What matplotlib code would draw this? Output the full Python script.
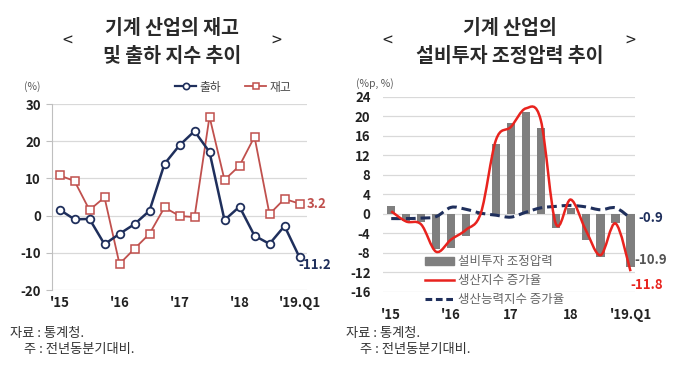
#!/usr/bin/env python3
import numpy as np
import matplotlib

matplotlib.use('Agg')
import matplotlib.pyplot as plt
from matplotlib.path import Path
from matplotlib.patches import PathPatch, Patch
from matplotlib.lines import Line2D

plt.rcParams['font.family'] = ['Noto Sans CJK KR', 'DejaVu Sans']
plt.rcParams['axes.unicode_minus'] = False

# ---------------------------------------------------------------- data
quarters = ['15.Q1', '15.Q2', '15.Q3', '15.Q4', '16.Q1', '16.Q2', '16.Q3', '16.Q4',
            '17.Q1', '17.Q2', '17.Q3', '17.Q4', '18.Q1', '18.Q2', '18.Q3', '18.Q4', '19.Q1']
tick_labels = ["'15", "'16", "'17", "'18", "'19.Q1"]

# left chart: 출하 / 재고 index growth (%)
shipment = [1.6, -1.0, -0.9, -7.7, -4.9, -2.3, 1.3, 13.9, 18.9, 22.7, 17.1, -1.2, 2.4, -5.4, -7.6, -2.8, -11.2]
inventory = [10.8, 9.3, 1.5, 4.9, -13.0, -8.9, -4.9, 2.2, -0.1, -0.4, 26.6, 9.6, 13.4, 21.2, 0.4, 4.5, 3.2]

# right chart
adj_pressure = [1.6, -1.5, -1.6, -7.3, -7.0, -4.6, -0.2, 14.3, 18.7, 20.9, 17.6, -3.0, 1.1, -5.4, -8.8, -2.0, -10.9]
production = [0.5, -1.6, -2.2, -7.8, -5.3, -3.3, 0.2, 15.1, 17.8, 21.6, 19.2, -2.0, 2.9, -3.3, -8.5, -2.0, -11.8]
capacity = [-1.0, -1.0, -0.9, -0.6, 1.3, 0.9, 0.1, -0.3, -0.7, 0.3, 1.2, 1.5, 1.7, 1.4, 0.8, 1.2, -0.9]

W, H = 680, 379
NAVY = '#1f2f5c'
LRED = '#c0504d'
RED = '#e8231e'
GRAY = '#7f7f7f'
GRID = '#d9d9d9'


def fx(px):
    return px / W


def fy(py):
    return 1 - py / H


def smooth_path(x, y):
    # Excel-style smoothed line (Catmull-Rom as cubic Bezier segments)
    pts = np.column_stack([x, y]).astype(float)
    ext = np.vstack([pts[0], pts, pts[-1]])
    verts = [pts[0]]
    codes = [Path.MOVETO]
    for i in range(len(pts) - 1):
        p0, p1, p2, p3 = ext[i], ext[i + 1], ext[i + 2], ext[i + 3]
        verts += [p1 + (p2 - p0) / 6, p2 - (p3 - p1) / 6, p2]
        codes += [Path.CURVE4] * 3
    return Path(verts, codes)


fig = plt.figure(figsize=(W / 100, H / 100), dpi=100)
xs = np.arange(len(quarters))

# ---------------------------------------------------------------- left chart
ax1 = fig.add_axes([fx(52), fy(290), fx(307) - fx(52), fy(104) - fy(290)])
ax1.plot(xs, shipment, color=NAVY, lw=1.8, marker='o', ms=5.5, mfc='white', mew=1.3, zorder=3)
ax1.plot(xs, inventory, color=LRED, lw=1.3, marker='s', ms=5.5, mfc='white', mew=1.1, zorder=2)
ax1.set_xlim(-0.5, 16.5)
ax1.set_ylim(-20, 30)
ax1.set_yticks(range(-20, 31, 10))
ax1.set_xticks(xs[::4])
ax1.set_xticklabels(tick_labels)
ax1.grid(axis='y', color=GRID, lw=0.9)
ax1.set_axisbelow(True)
for s in ['top', 'right', 'bottom']:
    ax1.spines[s].set_visible(False)
ax1.spines['left'].set_color('#bfbfbf')
ax1.tick_params(axis='y', length=4, color='#bfbfbf', pad=4, labelsize=9.5, labelcolor='#222222')
ax1.tick_params(axis='x', length=0, pad=4, labelsize=9.5, labelcolor='#222222')
for lab in ax1.get_xticklabels() + ax1.get_yticklabels():
    lab.set_fontweight('bold')

ax1.text(16.5, 3.2, '3.2', color=LRED, fontsize=9.5, fontweight='bold', va='center', ha='left')
ax1.text(15.9, -13.3, '-11.2', color=NAVY, fontsize=9.5, fontweight='bold', va='center', ha='left')

fig.legend(handles=[Line2D([], [], color=NAVY, lw=1.6, marker='o', ms=4.5, mfc='white', mew=1.2),
                    Line2D([], [], color=LRED, lw=1.3, marker='s', ms=4.5, mfc='white', mew=1.1)],
           labels=['출하', '재고'], ncol=2, loc='center left', bbox_to_anchor=(fx(175), fy(87)),
           frameon=False, fontsize=8.5, handlelength=1.8, handletextpad=0.3, columnspacing=2.0,
           borderpad=0, borderaxespad=0, labelcolor='#444444')
fig.text(fx(24), fy(87), '(%)', fontsize=7.5, color='#595959', va='center')

# ---------------------------------------------------------------- right chart
ax2 = fig.add_axes([fx(383), fy(291.7), fx(635) - fx(383), fy(96.7) - fy(291.7)])
ax2.bar(xs, adj_pressure, width=0.55, color=GRAY, zorder=2)
ax2.add_patch(PathPatch(smooth_path(xs, production), fill=False, ec=RED, lw=1.8, zorder=4))
ax2.add_patch(PathPatch(smooth_path(xs, capacity), fill=False, ec=NAVY, lw=2.2,
                        ls=(0, (3.2, 1.6)), zorder=3))
ax2.set_xlim(-0.55, 16.3)
ax2.set_ylim(-16, 24)
ax2.set_yticks(range(-16, 25, 4))
ax2.set_xticks(xs[::4])
ax2.set_xticklabels(["'15", "'16", "17", "18", "'19.Q1"])
ax2.grid(axis='y', color=GRID, lw=0.9)
ax2.set_axisbelow(True)
for s in ax2.spines.values():
    s.set_visible(False)
ax2.tick_params(axis='y', length=0, pad=9, labelsize=9.5, labelcolor='#222222')
ax2.tick_params(axis='x', length=0, pad=12, labelsize=9.5, labelcolor='#222222')
for lab in ax2.get_xticklabels() + ax2.get_yticklabels():
    lab.set_fontweight('bold')

ax2.text(16.55, -0.9, '-0.9', color=NAVY, fontsize=9.5, fontweight='bold', va='center', ha='left')
ax2.text(16.25, -9.4, '-10.9', color='#555555', fontsize=9.5, fontweight='bold', va='center', ha='left')
ax2.text(16.0, -14.6, '-11.8', color=RED, fontsize=9.5, fontweight='bold', va='center', ha='left')

fig.legend(handles=[Patch(color=GRAY),
                    Line2D([], [], color=RED, lw=1.8),
                    Line2D([], [], color=NAVY, lw=2.2, ls=(0, (2.2, 1.2)))],
           labels=['설비투자 조정압력', '생산지수 증가율', '생산능력지수 증가율'],
           loc='upper left', bbox_to_anchor=(fx(425), fy(255)), frameon=False, fontsize=9,
           handlelength=2.3, handleheight=0.6, handletextpad=0.3, labelspacing=0.5,
           borderpad=0, borderaxespad=0, labelcolor='#666666')
fig.text(fx(356), fy(84), '(%p, %)', fontsize=7.5, color='#595959', va='center')

# ---------------------------------------------------------------- titles & notes
for cx, lines, lx, rx in [(172, ['기계 산업의 재고', '및 출하 지수 추이'], 67, 276),
                          (510, ['기계 산업의', '설비투자 조정압력 추이'], 387, 630)]:
    fig.text(fx(cx), fy(29), lines[0], fontsize=14, fontweight='bold', color='#2a2a2a', ha='center', va='center')
    fig.text(fx(cx), fy(57), lines[1], fontsize=14, fontweight='bold', color='#2a2a2a', ha='center', va='center')
    fig.text(fx(lx), fy(42), '<', fontsize=13, color='#222222', ha='center', va='center')
    fig.text(fx(rx), fy(42), '>', fontsize=13, color='#222222', ha='center', va='center')

for x0 in [10, 346]:
    fig.text(fx(x0), fy(333), '자료 : 통계청.', fontsize=9.5, color='#333333', va='center')
    fig.text(fx(x0 + 14), fy(350), '주 : 전년동분기대비.', fontsize=9.5, color='#333333', va='center')

fig.savefig('out.png', dpi=100)
plt.close()
